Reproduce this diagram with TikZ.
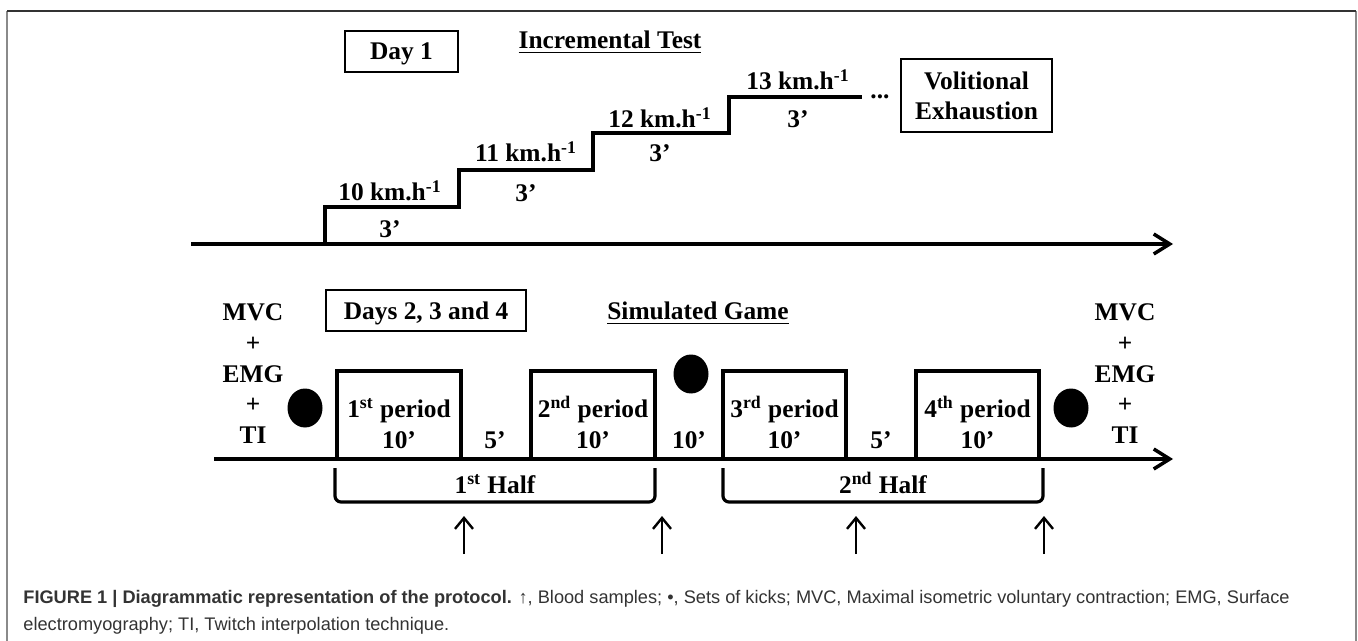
\documentclass[tikz,border=0pt]{standalone}
\usepackage{fontspec}
\setmainfont{Liberation Serif}
\newfontfamily\capfont{Liberation Sans}
\usetikzlibrary{arrows.meta,shapes.geometric}
\definecolor{capgray}{HTML}{333333}
\definecolor{edgegray}{HTML}{8A8A8A}

\begin{document}
\begin{tikzpicture}[x=0.5pt,y=-0.5pt]
\tikzset{
  txt/.style={font=\bfseries\fontsize{12.7}{15}\selectfont,inner sep=0pt,anchor=base},
  labelbox/.style={draw,line width=1pt,font=\bfseries\fontsize{12.7}{15}\selectfont,inner sep=0pt,text depth=0pt,align=center},
  timeline/.style={line width=1.75pt,-{Straight Barb[length=8pt,width=10pt]}},
  stair/.style={line width=1.75pt},
  period/.style={line width=1.7pt},
  halfbrace/.style={line width=1.6pt,rounded corners=3pt},
  blood/.style={line width=1.2pt,-{Straight Barb[length=5.5pt,width=9pt]}},
  kick/.style={ellipse,fill=black,inner sep=0pt,minimum width=17.5pt,minimum height=19.5pt},
  capline/.style={font=\capfont\fontsize{9.1}{11}\selectfont,text=capgray,inner sep=0pt,anchor=base west}
}
\useasboundingbox (0,0) rectangle (1358,641);
% frame
\coordinate (f_bl) at (7,641);
\coordinate (f_tl) at (7,11);
\coordinate (f_tr) at (1356,11);
\coordinate (f_br) at (1356,641);
\draw[edgegray,line width=0.75pt] (f_bl) -- (f_tl);
\draw[edgegray,line width=0.75pt] (f_tr) -- (f_br);
\draw[capgray,line width=1pt] (f_tl) -- (f_tr);

% day 1: incremental test
\node[labelbox,minimum width=56.5pt,minimum height=20.5pt] (n_day1) at (401.5,51.5) {Day 1};
\node[txt] (n_inc) at (610,49) {\underline{Incremental Test}};
\node[labelbox,minimum width=75.5pt,minimum height=36.5pt] (n_exh) at (976.5,95.5) {Volitional\\Exhaustion};
\coordinate (a1_s) at (191,244);
\coordinate (a1_e) at (1173,244);
\draw[timeline] (a1_s) -- (a1_e);
\coordinate (s0) at (325,244);
\coordinate (s1) at (459,207);
\coordinate (s2) at (593,170);
\coordinate (s3) at (729,133);
\coordinate (s4) at (862,97);
\draw[stair] (s0) |- (s1) |- (s2) |- (s3) |- (s4);
\node[txt] (n_v10) at (390,201) {10 km.h\textsuperscript{-1}};
\node[txt] (n_t10) at (390,238) {3’};
\node[txt] (n_v11) at (526,162) {11 km.h\textsuperscript{-1}};
\node[txt] (n_t11) at (526,202) {3’};
\node[txt] (n_v12) at (660,128) {12 km.h\textsuperscript{-1}};
\node[txt] (n_t12) at (660,162) {3’};
\node[txt] (n_v13) at (798,90) {13 km.h\textsuperscript{-1}};
\node[txt] (n_t13) at (798,128) {3’};
\node[txt] (n_dots) at (880,99) {...};

% days 2, 3 and 4: simulated game
\node[labelbox,minimum width=100pt,minimum height=20.5pt] (n_days) at (426,310.5) {Days 2, 3 and 4};
\node[txt] (n_game) at (698,320) {\underline{Simulated Game}};
\node[txt] (n_lmvc) at (253,321) {MVC};
\node[txt] (n_lp1) at (253,351.5) {+};
\node[txt] (n_lemg) at (253,382) {EMG};
\node[txt] (n_lp2) at (253,412.5) {+};
\node[txt] (n_lti) at (253,443) {TI};
\node[txt] (n_rmvc) at (1125,321) {MVC};
\node[txt] (n_rp1) at (1125,351.5) {+};
\node[txt] (n_remg) at (1125,382) {EMG};
\node[txt] (n_rp2) at (1125,412.5) {+};
\node[txt] (n_rti) at (1125,443) {TI};
\node[kick] (n_k1) at (305,408) {};
\node[kick] (n_k2) at (691,374) {};
\node[kick] (n_k3) at (1071,408) {};
\coordinate (a2_s) at (214,459);
\coordinate (a2_e) at (1173,459);
\draw[timeline] (a2_s) -- (a2_e);
\coordinate (p1l) at (337,371);
\coordinate (p1r) at (461,371);
\coordinate (p2l) at (531,371);
\coordinate (p2r) at (655,371);
\coordinate (p3l) at (723,371);
\coordinate (p3r) at (846,371);
\coordinate (p4l) at (916,371);
\coordinate (p4r) at (1039,371);
\draw[period] (p1l |- a2_s) -- (p1l) -- (p1r) -- (p1r |- a2_s);
\draw[period] (p2l |- a2_s) -- (p2l) -- (p2r) -- (p2r |- a2_s);
\draw[period] (p3l |- a2_s) -- (p3l) -- (p3r) -- (p3r |- a2_s);
\draw[period] (p4l |- a2_s) -- (p4l) -- (p4r) -- (p4r |- a2_s);
\node[txt] (n_p1) at (399,417) {1\textsuperscript{st} period};
\node[txt] (n_d1) at (399,448) {10’};
\node[txt] (n_p2) at (593,417) {2\textsuperscript{nd} period};
\node[txt] (n_d2) at (593,448) {10’};
\node[txt] (n_p3) at (784.5,417) {3\textsuperscript{rd} period};
\node[txt] (n_d3) at (784.5,448) {10’};
\node[txt] (n_p4) at (977.5,417) {4\textsuperscript{th} period};
\node[txt] (n_d4) at (977.5,448) {10’};
\node[txt] (n_r1) at (495,448) {5’};
\node[txt] (n_r2) at (689,448) {10’};
\node[txt] (n_r3) at (881,448) {5’};
\coordinate (h1l) at (335,468);
\coordinate (h1r) at (655,468);
\coordinate (h2l) at (723,468);
\coordinate (h2r) at (1043,468);
\draw[halfbrace] (h1l) -- ++(0,34) -| (h1r);
\draw[halfbrace] (h2l) -- ++(0,34) -| (h2r);
\node[txt] (n_half1) at (495,493) {1\textsuperscript{st} Half};
\node[txt] (n_half2) at (883,493) {2\textsuperscript{nd} Half};
\coordinate (u1b) at (464,554);
\coordinate (u1t) at (464,516);
\coordinate (u2b) at (662,554);
\coordinate (u2t) at (662,516);
\coordinate (u3b) at (856,554);
\coordinate (u3t) at (856,516);
\coordinate (u4b) at (1044,554);
\coordinate (u4t) at (1044,516);
\draw[blood] (u1b) -- (u1t);
\draw[blood] (u2b) -- (u2t);
\draw[blood] (u3b) -- (u3t);
\draw[blood] (u4b) -- (u4t);

% caption
\node[capline] (n_cap1) at (23,603) {\textbf{FIGURE 1 | Diagrammatic representation of the protocol.} ↑, Blood samples; •, Sets of kicks; MVC, Maximal isometric voluntary contraction; EMG, Surface};
\node[capline] (n_cap2) at (23,630) {electromyography; TI, Twitch interpolation technique.};
\end{tikzpicture}
\end{document}
